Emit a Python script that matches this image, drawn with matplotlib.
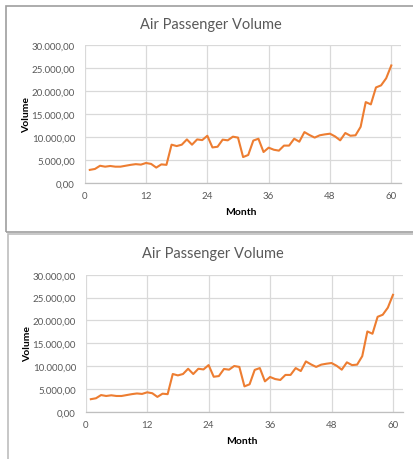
import matplotlib
matplotlib.use("Agg")
import matplotlib.pyplot as plt
from matplotlib.ticker import FuncFormatter, FixedLocator
from matplotlib.patches import Rectangle

months = list(range(1, 61))
volume = [2800, 3000, 3700, 3500, 3650, 3500, 3500, 3700, 3900, 4050,
          3950, 4300, 4100, 3300, 4000, 3900, 8300, 8000, 8300, 9450,
          8300, 9450, 9300, 10250, 7700, 7850, 9400, 9250, 10050, 9850,
          5600, 6050, 9200, 9600, 6700, 7650, 7200, 7000, 8100, 8100,
          9600, 8950, 11050, 10400, 9850, 10350, 10550, 10700, 10100, 9250,
          10850, 10250, 10350, 12200, 17600, 17100, 20800, 21250, 22800, 25600]
x_ticks = [0, 12, 24, 36, 48, 60]
y_ticks = [0, 5000, 10000, 15000, 20000, 25000, 30000]
title = "Air Passenger Volume"
x_label = "Month"
y_label = "Volume"

W, H = 414, 460
fig = plt.figure(figsize=(W / 100, H / 100), dpi=100)
plt.rcParams['font.family'] = ['Lato', 'DejaVu Sans']

def euro(v, pos=None):
    s = f"{v:,.2f}"
    return s.replace(",", "X").replace(".", ",").replace("X", ".")

def px_axes(x0, x1, y_bottom, y_top):
    return fig.add_axes([x0 / W, (H - y_bottom) / H, (x1 - x0) / W, (y_bottom - y_top) / H])

# chart borders
fig.patches.append(Rectangle((6.5 / W, (H - 232.5) / H), (W + 10) / W, (232.5 - 6.5) / H,
                             transform=fig.transFigure, fill=False,
                             edgecolor="#9E9E9E", linewidth=1.2))
fig.patches.append(Rectangle((8 / W, -0.1), (W + 10) / W, (H - 235) / H + 0.1,
                             transform=fig.transFigure, fill=False,
                             edgecolor="#BDBDBD", linewidth=1.2))

def draw(ax, title_x, title_y, xlabel_y, ylabel_x):
    ax.plot(months, volume, color="#ED7D31", linewidth=1.5, zorder=3)
    ax.set_xlim(0, 61.9)
    ax.set_ylim(0, 30000)
    ax.xaxis.set_major_locator(FixedLocator(x_ticks))
    ax.yaxis.set_major_locator(FixedLocator(y_ticks))
    ax.yaxis.set_major_formatter(FuncFormatter(euro))
    ax.grid(True, color="#D9D9D9", linewidth=0.9)
    ax.set_axisbelow(True)
    for s in ["top", "right", "left"]:
        ax.spines[s].set_visible(False)
    ax.spines["bottom"].set_color("#BFBFBF")
    ax.spines["bottom"].set_linewidth(0.9)
    ax.tick_params(length=0, labelsize=7, labelcolor="#595959", pad=6)
    ax.tick_params(axis="y", pad=7)
    bb = ax.get_position()
    fig.text(title_x / W, (H - title_y) / H, title, ha="center", va="center",
             fontsize=10.5, color="#595959")
    fig.text((bb.x0 + bb.x1) / 2 - 2 / W, (H - xlabel_y) / H, x_label, ha="center", va="center",
             fontsize=7.5, fontweight="bold", color="black")
    fig.text(ylabel_x / W, (bb.y0 + bb.y1) / 2, y_label, ha="center", va="center",
             rotation=90, fontsize=7.5, fontweight="bold", color="black")

ax1 = px_axes(84.7, 401, 183.7, 46.3)
draw(ax1, 211, 25, 213, 27)
ax2 = px_axes(85.7, 402.7, 413, 275.7)
draw(ax2, 213, 254, 442, 28)

fig.savefig("out.png", dpi=100)
